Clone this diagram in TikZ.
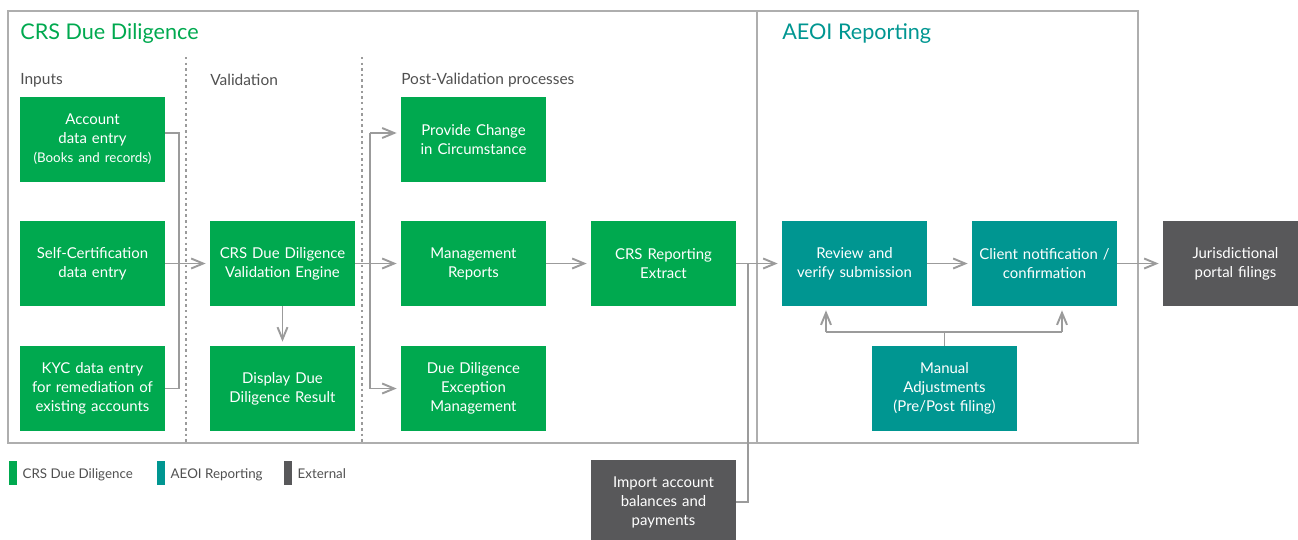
\documentclass[tikz,border=0pt]{standalone}
\usepackage{fontspec}
\setmainfont{Lato}
\usetikzlibrary{arrows.meta,positioning}

\definecolor{crsgreen}{HTML}{00A94F}
\definecolor{aeoiteal}{HTML}{009691}
\definecolor{extgray}{HTML}{58585A}
\definecolor{linegray}{HTML}{9B9B9B}
\definecolor{framegray}{HTML}{AEAEAE}
\definecolor{labelgray}{HTML}{505050}

\begin{document}
\begin{tikzpicture}[
    x=0.02cm, y=-0.02cm,
    box/.style={rectangle, fill=crsgreen, text=white,
                minimum width=2.9cm, minimum height=1.7cm,
                inner sep=0pt, text width=2.8cm, align=center,
                font=\fontsize{8.5}{10.8}\selectfont},
    aeoibox/.style={box, fill=aeoiteal},
    extbox/.style={box, fill=extgray},
    conn/.style={draw=linegray, line width=1.1pt},
    flow/.style={conn, -{Straight Barb[length=2.4mm, width=2mm]}, shorten >=0.8mm},
    frame/.style={draw=framegray, line width=0.6pt},
    divider/.style={draw=linegray, line width=0.9pt, dash pattern=on 1.4pt off 1.8pt},
    heading/.style={font=\fontsize{12.3}{15}\selectfont, anchor=west, inner sep=0pt},
    colhead/.style={font=\fontsize{8.8}{10}\selectfont, text=labelgray, anchor=west, inner sep=0pt},
    legbar/.style={rectangle, minimum width=0.16cm, minimum height=0.48cm, inner sep=0pt},
    legtext/.style={font=\fontsize{7.6}{9}\selectfont, text=labelgray, inner sep=0pt,
                    text height=1.5ex, text depth=0.3ex}
]
\useasboundingbox (0,0) rectangle (1298,539);

% Frames
\draw[frame] (8,11) rectangle (1138,443);
\draw[frame] (757,11) -- (757,443);
\draw[divider] (186,57) -- (186,443);
\draw[divider] (362,57) -- (362,443);

% Headings
\node[heading, text=crsgreen] (crstitle)  at (20,34)  {CRS Due Diligence};
\node[heading, text=aeoiteal] (aeoititle) at (782,34) {AEOI Reporting};
\node[colhead] (hin)   at (20,80)  {Inputs};
\node[colhead] (hval)  at (210,80) {Validation};
\node[colhead] (hpost) at (401,80) {Post-Validation processes};

% Inputs
\node[box] (acc)  at (92.5,139.5) {Account\\data entry\\{\fontsize{7.6}{10.8}\selectfont (Books and records)}};
\node[box] (self) at (92.5,263.5) {Self-Certification\\data entry};
\node[box] (kyc)  at (92.5,388.5) {KYC data entry\\for remediation of\\existing accounts};

% Validation
\node[box] (eng)  at (282.5,263.5) {CRS Due Diligence\\Validation Engine};
\node[box] (disp) at (282.5,388.5) {Display Due\\Diligence Result};

% Post-validation
\node[box] (chg)  at (473.5,139.5) {Provide Change\\in Circumstance};
\node[box] (mgmt) at (473.5,263.5) {Management\\Reports};
\node[box] (exc)  at (473.5,388.5) {Due Diligence\\Exception\\Management};
\node[box] (ext)  at (663.5,263.5) {CRS Reporting\\Extract};
\node[extbox] (imp) at (663.5,502) {Import account\\balances and\\payments};

% AEOI reporting
\node[aeoibox] (rev) at (854.5,263.5)  {Review and\\verify submission};
\node[aeoibox] (cli) at (1044.5,263.5) {Client notification /\\confirmation};
\node[aeoibox] (man) at (944.5,388.5)  {Manual\\Adjustments\\(Pre/Post filing)};
\node[extbox]  (jur) at (1235.5,263.5) {Jurisdictional\\portal filings};

% Junctions
\coordinate (inTop)  at (179,133);
\coordinate (inBot)  at (179,388.5);
\coordinate (outTop) at (370,133);
\coordinate (outBot) at (370,388.5);
\coordinate (impJ)   at (748,263.5);
\coordinate (adjL)   at (826,332);
\coordinate (adjR)   at (1062,332);

% Connectors
\draw[conn] (acc.east |- inTop) -- (inTop) -- (inBot) -- (kyc.east);
\draw[flow] (self.east) -- (eng.west);
\draw[flow] (eng.south) -- (disp.north);
\draw[flow] (eng.east) -- (mgmt.west);
\draw[conn] (outTop) -- (outBot);
\draw[flow] (outTop) -- (chg.west |- outTop);
\draw[flow] (outBot) -- (exc.west);
\draw[flow] (mgmt.east) -- (ext.west);
\draw[flow] (ext.east) -- (rev.west);
\draw[conn] (imp.east) -| (impJ);
\draw[flow] (rev.east) -- (cli.west);
\draw[flow] (cli.east) -- (jur.west);
\draw[conn] (man.north) -- (man.north |- adjL);
\draw[conn] (adjL) -- (adjR);
\draw[flow] (adjL) -- (adjL |- rev.south);
\draw[flow] (adjR) -- (adjR |- cli.south);

% Legend
\node[legbar, fill=crsgreen] (lgcrs)  at (13,473)  {};
\node[legbar, fill=aeoiteal] (lgaeoi) at (161,473) {};
\node[legbar, fill=extgray]  (lgext)  at (288,473) {};
\node[legtext, right=0.1cm of lgcrs]  {CRS Due Diligence};
\node[legtext, right=0.1cm of lgaeoi] {AEOI Reporting};
\node[legtext, right=0.1cm of lgext]  {External};

\end{tikzpicture}
\end{document}
